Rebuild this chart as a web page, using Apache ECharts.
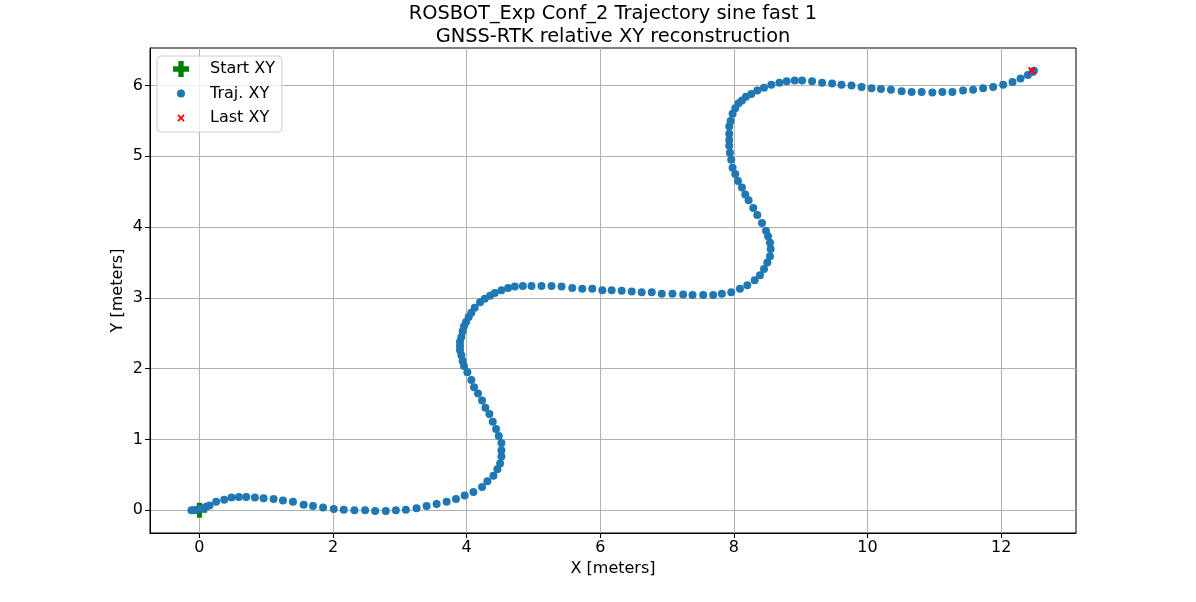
<!DOCTYPE html>
<html>
<head>
<meta charset="utf-8">
<script src="https://cdn.jsdelivr.net/npm/echarts@6/dist/echarts.min.js"></script>
<style>html,body{margin:0;padding:0;background:#fff;}#c{width:1196px;height:602px;}</style>
</head>
<body>
<div id="c"></div>
<script>
const titleText = 'ROSBOT_Exp Conf_2 Trajectory sine fast 1\nGNSS-RTK relative XY reconstruction';
const xTicks = [0, 2, 4, 6, 8, 10, 12];
const yTicks = [0, 1, 2, 3, 4, 5, 6];
const startXY = [[0.0, 0.0]];
const lastXY = [[12.46, 6.21]];
const trajX = [-0.12,-0.08,-0.04,0.00,0.06,0.10,0.15,0.25,0.37,0.48,0.59,0.70,0.83,0.96,1.11,1.25,1.40,1.56,1.70,1.85,2.01,2.16,2.32,2.48,2.63,2.79,2.94,3.09,3.25,3.40,3.55,3.70,3.84,3.97,4.10,4.23,4.31,4.40,4.46,4.50,4.52,4.52,4.52,4.48,4.44,4.39,4.34,4.28,4.23,4.17,4.11,4.07,4.01,3.96,3.94,3.92,3.90,3.90,3.90,3.92,3.94,3.96,3.99,4.03,4.07,4.12,4.20,4.27,4.35,4.42,4.52,4.62,4.72,4.84,
4.97,5.12,5.27,5.42,5.58,5.73,5.88,6.03,6.17,6.32,6.47,6.62,6.77,6.92,7.08,7.24,7.38,7.54,7.69,7.82,7.96,8.09,8.20,8.31,8.39,8.45,8.50,8.54,8.55,8.54,8.51,8.48,8.42,8.35,8.29,8.22,8.17,8.12,8.06,8.02,7.98,7.96,7.94,7.93,7.93,7.93,7.93,7.95,7.98,8.02,8.07,8.12,8.18,8.26,8.35,8.45,8.56,8.68,8.79,8.91,9.02,9.17,9.32,9.47,9.61,9.76,9.91,10.06,10.20,10.35,10.51,10.66,10.81,10.97,11.12,11.27,11.43,11.58,11.73,11.88,12.03,12.17,12.29,12.40,12.47,12.49];
const trajY = [0.00,0.00,0.01,0.02,0.03,0.05,0.07,0.12,0.15,0.18,0.19,0.19,0.18,0.17,0.16,0.14,0.12,0.08,0.06,0.04,0.02,0.01,0.00,0.00,-0.01,-0.01,0.00,0.01,0.03,0.06,0.09,0.12,0.16,0.21,0.26,0.33,0.41,0.49,0.58,0.66,0.76,0.85,0.95,1.05,1.15,1.25,1.36,1.45,1.55,1.65,1.74,1.84,1.95,2.04,2.11,2.19,2.26,2.32,2.38,2.45,2.53,2.60,2.66,2.73,2.79,2.86,2.94,2.99,3.03,3.07,3.11,3.14,3.16,3.17,
3.17,3.17,3.17,3.16,3.14,3.13,3.13,3.11,3.11,3.10,3.09,3.08,3.08,3.06,3.06,3.05,3.04,3.04,3.04,3.06,3.08,3.13,3.18,3.25,3.32,3.41,3.50,3.59,3.69,3.78,3.87,3.95,4.06,4.17,4.27,4.38,4.46,4.56,4.65,4.75,4.84,4.95,5.05,5.15,5.23,5.32,5.42,5.50,5.60,5.68,5.75,5.79,5.84,5.88,5.93,5.97,6.01,6.04,6.06,6.07,6.07,6.06,6.04,6.03,6.01,6.00,5.98,5.96,5.95,5.94,5.92,5.91,5.91,5.90,5.91,5.91,5.93,5.94,5.96,5.98,6.01,6.05,6.10,6.15,6.19,6.21];

const traj = trajX.map((x, i) => [x, trajY[i]]);
const plusPath = 'path://M4,0H8V4H12V8H8V12H4V8H0V4H4Z';
const xPath = 'path://M2,0L6,4L10,0L12,2L8,6L12,10L10,12L6,8L2,12L0,10L4,6L0,2Z';
const legCircle = 'path://M-8,-8M8,8M-4,0a4,4 0 1,0 8,0a4,4 0 1,0 -8,0Z';
const legX = 'path://M-7,-7M19,19M2,0L6,4L10,0L12,2L8,6L12,10L10,12L6,8L2,12L0,10L4,6L0,2Z';
const font = 'DejaVu Sans';

const chart = echarts.init(document.getElementById('c'), null, {renderer: 'canvas'});
chart.setOption({
  animation: false,
  backgroundColor: '#fff',
  textStyle: {fontFamily: font},
  title: {
    text: titleText, left: 608, top: -3, textAlign: 'center',
    textStyle: {fontFamily: font, fontSize: 19.4, fontWeight: 'normal', color: '#000', lineHeight: 23}
  },
  legend: {
    orient: 'vertical', left: 157, top: 56,
    padding: [5, 7, 6, 16], itemWidth: 48, itemHeight: 16, itemGap: 8.5,
    borderColor: '#cccccc', borderWidth: 1, borderRadius: 4,
    backgroundColor: 'rgba(255,255,255,0.8)', selectedMode: false,
    textStyle: {fontFamily: font, fontSize: 16, color: '#000', padding: [0,0,0,0]},
    data: [
      {name: 'Start XY', icon: plusPath},
      {name: 'Traj. XY', icon: legCircle},
      {name: 'Last XY', icon: legX}
    ]
  },
  grid: {left: 150, right: 120, top: 48, bottom: 69, show: true, borderColor: '#000', borderWidth: 1, containLabel: false},
  xAxis: {
    type: 'value', min: -0.74, max: 13.12,
    name: 'X [meters]', nameLocation: 'middle', nameGap: 27,
    nameTextStyle: {fontFamily: font, fontSize: 16, color: '#000'},
    axisLine: {show: true, onZero: false, lineStyle: {color: '#000', width: 1}},
    axisTick: {show: true, length: 5, inside: false, customValues: xTicks, lineStyle: {color: '#000'}},
    axisLabel: {customValues: xTicks, fontFamily: font, fontSize: 16, color: '#000', margin: 7},
    splitLine: {show: true, lineStyle: {color: '#b0b0b0', width: 1}}
  },
  yAxis: {
    type: 'value', min: -0.32, max: 6.53,
    name: 'Y [meters]', nameLocation: 'middle', nameGap: 24, nameRotate: 90, nameMoveOverlap: false,
    nameTextStyle: {fontFamily: font, fontSize: 16, color: '#000'},
    axisLine: {show: true, onZero: false, lineStyle: {color: '#000', width: 1}},
    axisTick: {show: true, length: 5, inside: false, customValues: yTicks, lineStyle: {color: '#000'}},
    axisLabel: {customValues: yTicks, fontFamily: font, fontSize: 16, color: '#000', margin: 7},
    splitLine: {show: true, lineStyle: {color: '#b0b0b0', width: 1}}
  },
  series: [
    {name: 'Start XY', type: 'scatter', data: startXY, symbol: plusPath, symbolSize: 15, itemStyle: {color: '#008000', opacity: 1}, z: 2},
    {name: 'Traj. XY', type: 'scatter', data: traj, symbol: 'circle', symbolSize: 8, itemStyle: {color: '#1f77b4', opacity: 1}, z: 3},
    {name: 'Last XY', type: 'scatter', data: lastXY, symbol: xPath, symbolSize: 8, itemStyle: {color: '#ff0000', opacity: 1}, z: 4}
  ]
});
</script>
</body>
</html>
